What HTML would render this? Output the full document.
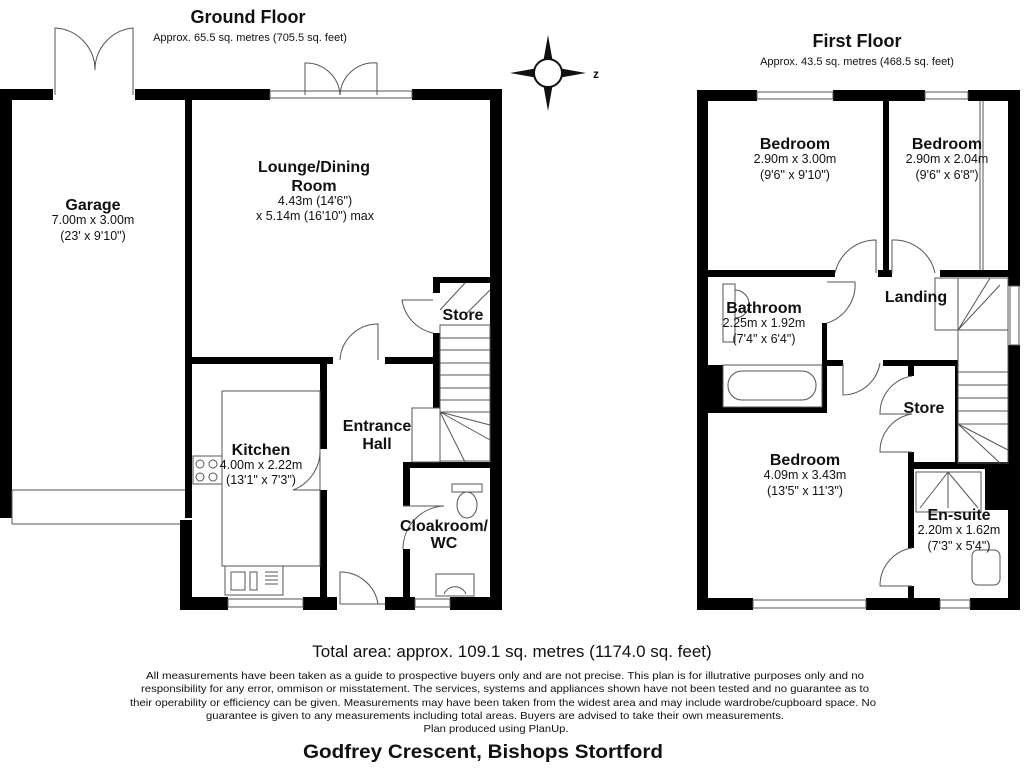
<!DOCTYPE html>
<html><head><meta charset="utf-8"><style>
html,body{margin:0;padding:0;background:#fff;width:1024px;height:768px;overflow:hidden}
svg{display:block}
text{font-family:"Liberation Sans",Arial,sans-serif;fill:#111;text-anchor:middle}
.b{font-weight:bold;font-size:16px}
.s{font-size:12.5px}
.n{font-family:"Liberation Sans Narrow","Liberation Sans",sans-serif}
</style></head><body>
<svg width="1024" height="768" viewBox="0 0 1024 768" xmlns="http://www.w3.org/2000/svg">
<text x="248" y="23" style="font-size:18px;font-weight:bold">Ground Floor</text>
<text x="250" y="41" style="font-size:11px">Approx. 65.5 sq. metres (705.5 sq. feet)</text>
<text x="857" y="47" style="font-size:18px;font-weight:bold">First Floor</text>
<text x="857" y="65" style="font-size:11px">Approx. 43.5 sq. metres (468.5 sq. feet)</text>

<!-- compass -->
<g transform="translate(548,73)">
<polygon points="0,-38 -5,-10 5,-10" fill="#111"/>
<polygon points="0,38 -5,10 5,10" fill="#111"/>
<polygon points="-38,0 -10,-5 -10,5" fill="#111"/>
<polygon points="38,0 10,-5 10,5" fill="#111"/>
<circle r="14" fill="#fff" stroke="#111" stroke-width="2"/>
<text x="48" y="5" style="font-size:12px;font-weight:bold">z</text>
</g>

<g fill="#000">
<!-- ground floor walls -->
<rect x="0" y="89" width="53" height="11"/>
<rect x="135" y="89" width="135" height="11"/>
<rect x="412" y="89" width="90" height="11"/>
<rect x="0" y="89" width="12" height="429"/>
<rect x="490" y="89" width="12" height="521"/>
<rect x="185" y="100" width="7" height="418"/>
<rect x="180" y="520" width="12" height="90"/>
<rect x="180" y="597" width="48" height="13"/>
<rect x="303" y="597" width="34" height="13"/>
<rect x="385" y="597" width="30" height="13"/>
<rect x="450" y="597" width="52" height="13"/>
<rect x="192" y="357" width="141" height="7"/>
<rect x="385" y="357" width="55" height="7"/>
<rect x="320" y="364" width="7" height="85"/>
<rect x="320" y="490" width="7" height="107"/>
<rect x="433" y="277" width="57" height="6"/>
<rect x="433" y="277" width="7" height="16"/>
<rect x="433" y="333" width="7" height="75"/>
<rect x="403" y="462" width="87" height="6"/>
<rect x="403" y="462" width="7" height="44"/>
<rect x="403" y="549" width="7" height="48"/>

<!-- first floor walls -->
<rect x="697" y="90" width="60" height="11"/>
<rect x="833" y="90" width="92" height="11"/>
<rect x="968" y="90" width="52" height="11"/>
<rect x="697" y="90" width="11" height="520"/>
<rect x="1008" y="90" width="12" height="196"/>
<rect x="1008" y="345" width="12" height="265"/>
<rect x="697" y="598" width="56" height="12"/>
<rect x="866" y="598" width="74" height="12"/>
<rect x="970" y="598" width="50" height="12"/>
<rect x="883" y="101" width="6" height="176"/>
<rect x="697" y="270" width="138" height="7"/>
<rect x="878" y="270" width="14" height="7"/>
<rect x="940" y="270" width="68" height="7"/>
<rect x="822" y="323" width="5" height="90"/>
<rect x="697" y="407" width="130" height="6"/>
<rect x="708" y="365" width="15" height="45"/>
<rect x="827" y="360" width="16" height="6"/>
<rect x="883" y="360" width="75" height="6"/>
<rect x="955" y="360" width="3" height="103"/>
<rect x="908" y="366" width="6" height="10"/>
<rect x="908" y="452" width="6" height="96"/>
<rect x="908" y="586" width="6" height="12"/>
<rect x="914" y="462" width="94" height="7"/>
<rect x="985" y="469" width="23" height="41"/>
</g>

<g fill="none" stroke="#555" stroke-width="1">
<!-- ground doors/windows -->
<rect x="270" y="91" width="142" height="7"/>
<path d="M55,95 V28 A42,42 0 0 1 95,70 M133,95 V28 A42,42 0 0 0 95,70"/>
<path d="M305,95 V63 A34,34 0 0 1 340,95 M377,95 V63 A34,34 0 0 0 340,95"/>
<rect x="228" y="599" width="75" height="8"/>
<rect x="415" y="599" width="35" height="8"/>
<path d="M340,604 V572 A38,38 0 0 1 378,604 M340,604 H385"/>
<path d="M340,360 A38,38 0 0 1 378,324 V360"/>
<path d="M433,333 A40,40 0 0 1 402,300 H433"/>
<path d="M403,549 A43,43 0 0 1 444,506 M403,506 H444"/>
<path d="M320,449 A42,42 0 0 1 293,490 M320,490 H293"/>
<line x1="12" y1="490" x2="185" y2="490"/>
<line x1="12" y1="524" x2="180" y2="524"/>
<line x1="12" y1="490" x2="12" y2="524"/>
<rect x="222" y="391" width="98" height="175"/>
<rect x="193" y="456" width="29" height="28"/>
<circle cx="200" cy="464" r="4"/><circle cx="213" cy="464" r="4"/>
<circle cx="200" cy="477" r="4"/><circle cx="213" cy="477" r="4"/>
<rect x="225" y="566" width="58" height="29"/>
<rect x="231" y="572" width="14" height="18"/><rect x="250" y="572" width="7" height="18"/>
<path d="M265,572 H278 M265,576 H278 M265,580 H278 M265,584 H278"/>
<rect x="440" y="325" width="50" height="136"/>
<path d="M440,338 H490 M440,350 H490 M440,363 H490 M440,375 H490 M440,388 H490 M440,400 H490 M440,412 H490"/>
<path d="M440,412 L465,462 M440,412 L490,440 M440,412 L490,425"/>
<rect x="412" y="408" width="28" height="54"/>
<path d="M465,283 L440,310 M490,290 L465,315"/>
<rect x="452" y="484" width="30" height="8"/>
<ellipse cx="467" cy="505" rx="10" ry="13"/>
<rect x="436" y="574" width="38" height="22"/>
<path d="M444,594 A12,12 0 0 1 466,594"/>

<!-- first floor -->
<rect x="757" y="92" width="76" height="7"/>
<rect x="925" y="92" width="43" height="7"/>
<rect x="753" y="600" width="113" height="8"/>
<rect x="940" y="600" width="30" height="8"/>
<rect x="1010" y="286" width="9" height="59"/>
<line x1="980" y1="101" x2="980" y2="270"/>
<line x1="983" y1="101" x2="983" y2="270"/>
<path d="M835,273 A42,42 0 0 1 876,240 V273"/>
<path d="M892,273 V240 A42,42 0 0 1 935,273"/>
<path d="M827,282 H855 A40,40 0 0 1 827,323"/>
<path d="M843,363 V395 A38,38 0 0 0 880,363"/>
<path d="M912,376 A38,38 0 0 0 880,414 H912 M912,414 A38,38 0 0 0 880,452 H912"/>
<path d="M912,548 A38,38 0 0 0 880,586 H912"/>
<rect x="723" y="365" width="99" height="42"/>
<rect x="728" y="371" width="88" height="29" rx="14"/>
<rect x="723" y="284" width="12" height="58"/>
<path d="M735,290 A14,14 0 0 1 735,318"/>
<rect x="935" y="278" width="23" height="52"/>
<rect x="958" y="278" width="50" height="185"/>
<path d="M958,330 H1008 M958,372 H1008 M958,385 H1008 M958,398 H1008 M958,411 H1008 M958,424 H1008"/>
<path d="M958,330 L1000,285 M958,330 L990,278 M958,424 L1000,463 M958,424 L1008,450"/>
<rect x="916" y="472" width="65" height="40"/>
<path d="M948,472 L920,508 M948,472 L978,508 M948,472 V508"/>
<rect x="972" y="550" width="28" height="35" rx="6"/>
</g>

<!-- labels -->
<text class="b" x="93" y="210">Garage</text>
<text class="s" x="93" y="224">7.00m x 3.00m</text>
<text class="s" x="93" y="240">(23' x 9'10")</text>
<text class="b" x="314" y="172">Lounge/Dining</text>
<text class="b" x="314" y="191">Room</text>
<text class="s" x="315" y="205">4.43m (14'6")</text>
<text class="s" x="315" y="220">x 5.14m (16'10") max</text>
<text class="b" x="463" y="320">Store</text>
<text class="b" x="377" y="431">Entrance</text>
<text class="b" x="377" y="449">Hall</text>
<text class="b" x="261" y="455">Kitchen</text>
<text class="s" x="261" y="469">4.00m x 2.22m</text>
<text class="s" x="261" y="484">(13'1" x 7'3")</text>
<text class="b" x="444" y="531">Cloakroom/</text>
<text class="b" x="444" y="548">WC</text>

<text class="b" x="795" y="149">Bedroom</text>
<text class="s" x="795" y="163">2.90m x 3.00m</text>
<text class="s" x="795" y="179">(9'6" x 9'10")</text>
<text class="b" x="947" y="149">Bedroom</text>
<text class="s" x="947" y="163">2.90m x 2.04m</text>
<text class="s" x="947" y="179">(9'6" x 6'8")</text>
<text class="b" x="916" y="302">Landing</text>
<text class="b" x="764" y="313">Bathroom</text>
<text class="s" x="764" y="327">2.25m x 1.92m</text>
<text class="s" x="764" y="343">(7'4" x 6'4")</text>
<text class="b" x="924" y="413">Store</text>
<text class="b" x="805" y="465">Bedroom</text>
<text class="s" x="805" y="479">4.09m x 3.43m</text>
<text class="s" x="805" y="495">(13'5" x 11'3")</text>
<text class="b" x="959" y="520">En-suite</text>
<text class="s" x="959" y="534">2.20m x 1.62m</text>
<text class="s" x="959" y="550">(7'3" x 5'4")</text>

<!-- footer -->
<text x="512" y="657" style="font-size:17px">Total area: approx. 109.1 sq. metres (1174.0 sq. feet)</text>
<g class="n" style="font-size:10.5px">
<text class="n" x="505" y="679" textLength="718" lengthAdjust="spacingAndGlyphs">All measurements have been taken as a guide to prospective buyers only and are not precise. This plan is for illutrative purposes only and no</text>
<text class="n" x="505" y="692" textLength="728" lengthAdjust="spacingAndGlyphs">responsibility for any error, ommison or misstatement. The services, systems and appliances shown have not been tested and no guarantee as to</text>
<text class="n" x="503" y="706" textLength="746" lengthAdjust="spacingAndGlyphs">their operability or efficiency can be given. Measurements may have been taken from the widest area and may include wardrobe/cupboard space. No</text>
<text class="n" x="495" y="719" textLength="578" lengthAdjust="spacingAndGlyphs">guarantee is given to any measurements including total areas. Buyers are advised to take their own measurements.</text>
<text class="n" x="496" y="732" textLength="145" lengthAdjust="spacingAndGlyphs">Plan produced using PlanUp.</text>
</g>
<text class="n" x="483" y="758" style="font-size:19px;font-weight:bold" textLength="360" lengthAdjust="spacingAndGlyphs">Godfrey Crescent, Bishops Stortford</text>
</svg>
</body></html>
